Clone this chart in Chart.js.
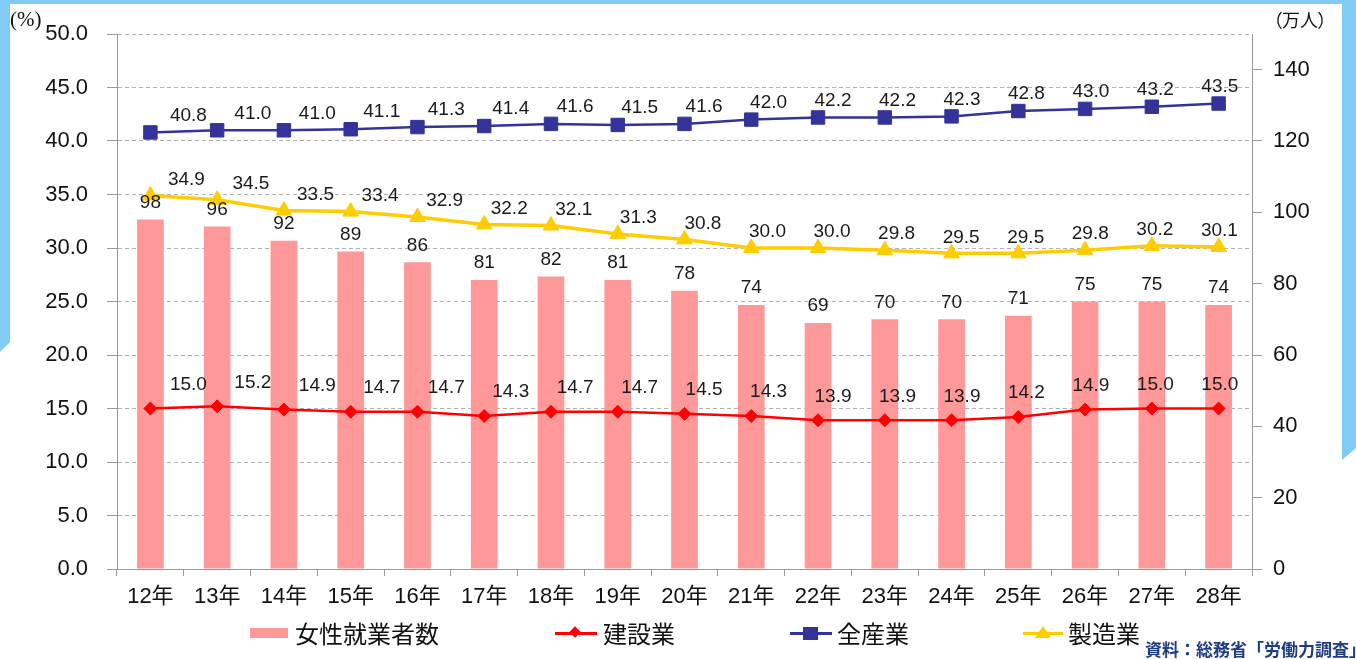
<!DOCTYPE html>
<html>
<head>
<meta charset="utf-8">
<script src="https://cdn.jsdelivr.net/npm/chart.js@4/dist/chart.umd.min.js"></script>
<style>
html,body{margin:0;padding:0;width:1356px;height:659px;overflow:hidden;background:#fff;}
#wrap{position:relative;width:1356px;height:659px;overflow:hidden;}
#c{position:absolute;left:0;top:0;}
.deco{position:absolute;background:#7fcbf6;}
.t{position:absolute;white-space:nowrap;color:#111;font-family:"Noto Sans CJK JP",sans-serif;font-feature-settings:"palt";}
.lg{position:absolute;}
</style>
</head>
<body>
<div id="wrap">
  <div class="deco" style="left:0;top:0;width:1356px;height:4px;"></div>
  <div class="deco" style="left:0;top:0;width:10px;height:352px;clip-path:polygon(0 0,100% 0,100% 342px,0 352px);"></div>
  <div class="deco" style="left:1342px;top:0;width:14px;height:460px;clip-path:polygon(0 0,100% 0,100% 448px,0 460px);"></div>
  <canvas id="c" width="1356" height="659"></canvas>
  <div class="t" style="left:10px;top:7px;font-family:'Liberation Serif',serif;font-size:21px;line-height:24px;">(%)</div>
  <div class="t" style="left:1273px;top:7px;font-size:18px;line-height:24px;">（万人）</div>

  <div class="lg" style="left:250px;top:628px;width:38px;height:10px;background:#ff9999;"></div>
  <div class="t" style="left:295px;top:619px;font-size:24px;line-height:28px;">女性就業者数</div>

  <div class="lg" style="left:555px;top:632px;width:42px;height:3px;background:#ff0000;"></div>
  <div class="lg" style="left:571px;top:628px;width:8px;height:8px;background:#ff0000;transform:rotate(45deg);"></div>
  <div class="t" style="left:603px;top:619px;font-size:24px;line-height:28px;">建設業</div>

  <div class="lg" style="left:790px;top:632px;width:42px;height:3px;background:#333399;"></div>
  <div class="lg" style="left:803px;top:627px;width:15px;height:13px;background:#333399;"></div>
  <div class="t" style="left:837px;top:619px;font-size:24px;line-height:28px;">全産業</div>

  <div class="lg" style="left:1023px;top:632px;width:40px;height:3px;background:#ffcc00;"></div>
  <div class="lg" style="left:1035px;top:626px;width:16px;height:12px;background:#ffcc00;clip-path:polygon(50% 0,100% 100%,0 100%);"></div>
  <div class="t" style="left:1068px;top:619px;font-size:24px;line-height:28px;">製造業</div>

  <div class="t" style="left:1145px;top:638px;font-size:17px;line-height:21px;font-weight:bold;color:#1d3c85;font-feature-settings:normal;">資料：総務省「労働力調査」</div>
</div>
<script>
// ---- data ----
const categories = ['12年','13年','14年','15年','16年','17年','18年','19年','20年','21年','22年','23年','24年','25年','26年','27年','28年'];
const femaleWorkers = [98, 96, 92, 89, 86, 81, 82, 81, 78, 74, 69, 70, 70, 71, 75, 75, 74];
const construction = [15.0, 15.2, 14.9, 14.7, 14.7, 14.3, 14.7, 14.7, 14.5, 14.3, 13.9, 13.9, 13.9, 14.2, 14.9, 15.0, 15.0];
const allIndustries = [40.8, 41.0, 41.0, 41.1, 41.3, 41.4, 41.6, 41.5, 41.6, 42.0, 42.2, 42.2, 42.3, 42.8, 43.0, 43.2, 43.5];
const manufacturing = [34.9, 34.5, 33.5, 33.4, 32.9, 32.2, 32.1, 31.3, 30.8, 30.0, 30.0, 29.8, 29.5, 29.5, 29.8, 30.2, 30.1];
const seriesNames = ['女性就業者数', '建設業', '全産業', '製造業'];
const leftTicks = {min: 0, max: 50, step: 5};
const rightTicks = {min: 0, max: 150, step: 20};

const FONT = '"Liberation Sans", "Noto Sans CJK JP", sans-serif';
Chart.defaults.font.family = FONT;
Chart.defaults.color = '#111';

const labelPlugin = {
  id: 'valueLabels',
  afterDatasetsDraw(chart) {
    const ctx = chart.ctx;
    ctx.save();
    ctx.font = '19px ' + FONT;
    ctx.fillStyle = '#1a1a1a';
    ctx.textAlign = 'center';
    ctx.textBaseline = 'middle';
    chart.data.datasets.forEach((ds, di) => {
      const meta = chart.getDatasetMeta(di);
      const st = ds.valueLabel;
      meta.data.forEach((el, i) => {
        const v = ds.data[i];
        const txt = st.decimals ? v.toFixed(st.decimals) : String(v);
        ctx.fillText(txt, el.x + st.dx0 + st.dxStep * i, el.y + st.dy);
      });
    });
    ctx.restore();
  }
};

new Chart(document.getElementById('c'), {
  type: 'bar',
  data: {
    labels: categories,
    datasets: [
      {
        type: 'line', label: seriesNames[2], data: allIndustries, yAxisID: 'y', order: 1,
        borderColor: '#333399', backgroundColor: '#333399', borderWidth: 2.5,
        pointStyle: 'rect', pointRadius: 9.5, pointBorderWidth: 1, tension: 0,
        valueLabel: {decimals: 1, dx0: 38, dxStep: -2.3, dy: -17}
      },
      {
        type: 'line', label: seriesNames[3], data: manufacturing, yAxisID: 'y', order: 2,
        borderColor: '#ffcc00', backgroundColor: '#ffcc00', borderWidth: 3.5,
        pointStyle: 'triangle', pointRadius: 9, pointBorderWidth: 1, tension: 0,
        valueLabel: {decimals: 1, dx0: 36, dxStep: -2.2, dy: -16}
      },
      {
        type: 'line', label: seriesNames[1], data: construction, yAxisID: 'y', order: 3,
        borderColor: '#ff0000', backgroundColor: '#ff0000', borderWidth: 2.5,
        pointStyle: 'rectRot', pointRadius: 6.5, pointBorderWidth: 1, tension: 0,
        valueLabel: {decimals: 1, dx0: 38, dxStep: -2.3, dy: -24}
      },
      {
        type: 'bar', label: seriesNames[0], data: femaleWorkers, yAxisID: 'y2', order: 10,
        backgroundColor: '#ff9999', borderWidth: 0,
        barPercentage: 0.4, categoryPercentage: 1.0,
        valueLabel: {decimals: 0, dx0: 0, dxStep: 0, dy: -17}
      }
    ]
  },
  options: {
    responsive: false,
    animation: false,
    events: [],
    layout: {padding: {top: 34, left: 0, right: 0, bottom: 0}},
    plugins: {legend: {display: false}, tooltip: {enabled: false}},
    scales: {
      x: {
        afterFit: s => { s.height = 90; },
        grid: {display: true, drawOnChartArea: false, drawTicks: true, tickLength: 7, color: '#9a9a9a', offset: true},
        border: {display: true, color: '#9a9a9a', width: 1},
        ticks: {font: {size: 22}, color: '#111', padding: 8, maxRotation: 0, autoSkip: false}
      },
      y: {
        position: 'left',
        min: leftTicks.min, max: leftTicks.max,
        afterFit: s => { s.width = 117; },
        grid: {color: '#b0b0b0', lineWidth: 1, tickLength: 10, tickColor: '#9a9a9a', tickBorderDash: []},
        border: {display: true, color: '#9a9a9a', width: 1, dash: [4, 3]},
        ticks: {stepSize: leftTicks.step, font: {size: 22}, color: '#111', padding: 19, callback: v => Number(v).toFixed(1)}
      },
      y2: {
        position: 'right',
        min: rightTicks.min, max: rightTicks.max,
        afterFit: s => { s.width = 104; },
        grid: {drawOnChartArea: false, tickLength: 10, color: '#9a9a9a', tickColor: '#9a9a9a'},
        border: {display: true, color: '#9a9a9a', width: 1},
        ticks: {stepSize: rightTicks.step, includeBounds: false, font: {size: 22}, color: '#111', padding: 11}
      }
    }
  },
  plugins: [labelPlugin]
});
</script>
</body>
</html>
